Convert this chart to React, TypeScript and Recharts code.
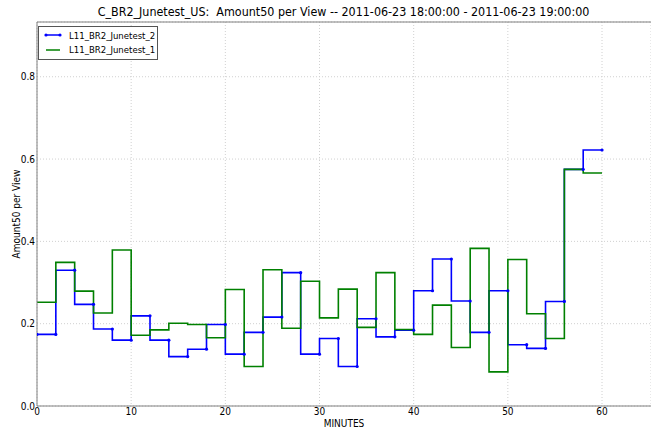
import { CartesianGrid, Line, LineChart, ReferenceLine, XAxis, YAxis } from "recharts";

const MINUTES = [0, 2, 4, 6, 8, 10, 12, 14, 16, 18, 20, 22, 24, 26, 28, 30, 32, 34, 36, 38, 40, 42, 44, 46, 48, 50, 52, 54, 56, 58, 60];

const JUNETEST_2 = [
  0.174, 0.174, 0.33, 0.247, 0.187, 0.16, 0.219, 0.16, 0.12, 0.138, 0.198, 0.126, 0.179, 0.216, 0.324, 0.126,
  0.164, 0.096, 0.212, 0.168, 0.184, 0.28, 0.357, 0.255, 0.179, 0.28, 0.149, 0.14, 0.254, 0.575, 0.622,
];

const JUNETEST_1 = [
  0.252, 0.252, 0.349, 0.279, 0.226, 0.379, 0.172, 0.185, 0.201, 0.198, 0.166, 0.283, 0.096, 0.331, 0.189, 0.303,
  0.214, 0.284, 0.191, 0.324, 0.186, 0.174, 0.245, 0.142, 0.383, 0.083, 0.356, 0.224, 0.164, 0.575, 0.566,
];

const X_TICKS = [0, 10, 20, 30, 40, 50, 60];
const Y_TICKS = [0, 0.2, 0.4, 0.6, 0.8];
const X_MAX = 65.2;
const Y_MAX = 0.933;

const TITLE = "C_BR2_Junetest_US:  Amount50 per View -- 2011-06-23 18:00:00 - 2011-06-23 19:00:00";
const SERIES = [
  { name: "L11_BR2_Junetest_2", color: "#0000ff", dots: true },
  { name: "L11_BR2_Junetest_1", color: "#008000", dots: false },
];

const FONT = "'DejaVu Sans Condensed', 'DejaVu Sans', sans-serif";
const BLUE = "#0000ff";
const GREEN = "#008000";
const SPINE = "#808080";

const data = MINUTES.map((m, i) => ({ minute: m, s2: JUNETEST_2[i], s1: JUNETEST_1[i] }));

const tick = { fontSize: 10, fill: "#000", fontFamily: FONT };

// legend box drawn over the plot (recharts Legend would steal layout space)
function LegendBox() {
  return (
    <div
      style={{
        position: "absolute",
        left: 38,
        top: 26,
        width: 118,
        height: 31,
        border: "1px solid #555",
        background: "#fff",
        fontFamily: FONT,
        fontSize: 9.5,
        paddingTop: 1,
      }}
    >
      {SERIES.map((r) => (
        <div key={r.name} style={{ display: "flex", alignItems: "center", height: 14.5 }}>
          <svg width={24} height={8} style={{ marginLeft: 3 }}>
            <line x1={4} y1={4} x2={18} y2={4} stroke={r.color} strokeWidth={1.5} />
            {r.dots && <circle cx={4} cy={4} r={1.6} fill={r.color} />}
            {r.dots && <circle cx={18} cy={4} r={1.6} fill={r.color} />}
          </svg>
          <span style={{ marginLeft: 3 }}>{r.name}</span>
        </div>
      ))}
    </div>
  );
}

export default function App() {
  return (
    <div style={{ position: "absolute", left: 0, top: 0, width: 651, height: 432, background: "#fff", overflow: "hidden" }}>
      <div
        style={{
          position: "absolute",
          left: 0,
          width: 687,
          top: 4,
          textAlign: "center",
          fontFamily: FONT,
          fontSize: 12.4,
          color: "#000",
          whiteSpace: "pre",
        }}
      >
        {TITLE}
      </div>
      <LineChart width={651} height={432} data={data} margin={{ top: 22, right: 0, left: 7, bottom: 0 }}>
        <CartesianGrid stroke="#d0d0d0" strokeDasharray="1 2" />
        <XAxis
          dataKey="minute"
          type="number"
          domain={[0, X_MAX]}
          ticks={X_TICKS}
          allowDataOverflow
          height={26}
          tick={tick}
          tickLine={false}
          tickSize={0}
          tickMargin={2}
          axisLine={{ stroke: SPINE, strokeWidth: 1 }}
          label={{ value: "MINUTES", position: "insideBottom", offset: 5, fontSize: 10, fill: "#000", fontFamily: FONT }}
        />
        <YAxis
          type="number"
          domain={[0, Y_MAX]}
          ticks={Y_TICKS}
          allowDataOverflow
          width={30}
          tick={tick}
          tickLine={false}
          tickSize={0}
          tickMargin={2}
          tickFormatter={(v) => Number(v).toFixed(1)}
          axisLine={{ stroke: SPINE, strokeWidth: 1 }}
          label={({ viewBox }: any) => (
            <text
              x={16}
              y={viewBox.y + viewBox.height / 2}
              transform={`rotate(-90 16 ${viewBox.y + viewBox.height / 2})`}
              textAnchor="middle"
              dominantBaseline="central"
              fontSize={10}
              fontFamily={FONT}
              fill="#000"
            >
              Amount50 per View
            </text>
          )}
        />
        <ReferenceLine y={Y_MAX} stroke={SPINE} strokeWidth={1} />
        <Line
          isAnimationActive={false}
          type="stepBefore"
          dataKey="s2"
          name={SERIES[0].name}
          stroke={BLUE}
          strokeWidth={1.6}
          dot={{ r: 1.6, fill: BLUE, stroke: BLUE, strokeWidth: 0 }}
          activeDot={false}
        />
        <Line
          isAnimationActive={false}
          type="stepBefore"
          dataKey="s1"
          name={SERIES[1].name}
          stroke={GREEN}
          strokeWidth={1.6}
          dot={false}
          activeDot={false}
        />
      </LineChart>
      <LegendBox />
    </div>
  );
}
